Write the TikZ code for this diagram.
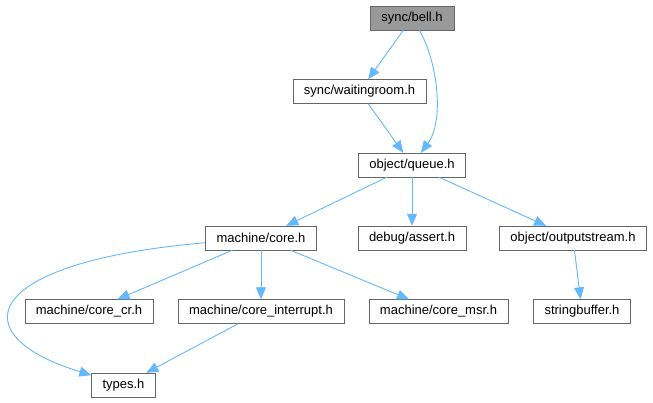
\documentclass[tikz,border=0pt]{standalone}
\usepackage{fontspec}
\setmainfont{Liberation Sans}
\usepackage{tikz}
\usetikzlibrary{arrows.meta}
\definecolor{edgeblue}{HTML}{63B8FF}
\definecolor{curgray}{HTML}{999999}
\definecolor{linegray}{HTML}{666666}

\begin{document}
\begin{tikzpicture}[x=1pt, y=-1pt,
    file/.style={draw=linegray, fill=white, minimum height=24pt,
        inner xsep=11pt, inner ysep=0pt, font=\fontsize{13}{15}\selectfont},
    cur/.style={file, fill=curgray},
    every edge/.style={draw=edgeblue, line width=0.9pt},
    >={Triangle[length=12pt,width=10pt]}]

\useasboundingbox (0,0) rectangle (653,403);

\node[cur] (bell) at (412,18) {sync/bell.h};
\node[file] (wait) at (359.5,91.5) {sync/waitingroom.h};
\node[file] (queue) at (412,165) {object/queue.h};
\node[file] (core) at (261,238) {machine/core.h};
\node[file] (assert) at (412,238) {debug/assert.h};
\node[file] (out) at (573,238) {object/outputstream.h};
\node[file] (cr) at (89,311.5) {machine/core\_cr.h};
\node[file] (irq) at (261,311.5) {machine/core\_interrupt.h};
\node[file] (msr) at (438.5,311.5) {machine/core\_msr.h};
\node[file] (sbuf) at (582,311.5) {stringbuffer.h};
\node[file] (types) at (123.5,385) {types.h};

\path[->] (bell) edge (wait)
    (wait) edge (queue)
    (queue) edge (core)
    edge (assert)
    edge (out)
    (core) edge (cr)
    edge (irq)
    edge (msr)
    (irq) edge (types)
    (out) edge (sbuf);

\draw[->, edgeblue, line width=0.9pt] (bell) .. controls (437,60) and (445,120) .. (queue);
\draw[->, edgeblue, line width=0.9pt] (core) .. controls (-20,262) and (-40,335) .. (types);
\end{tikzpicture}
\end{document}
